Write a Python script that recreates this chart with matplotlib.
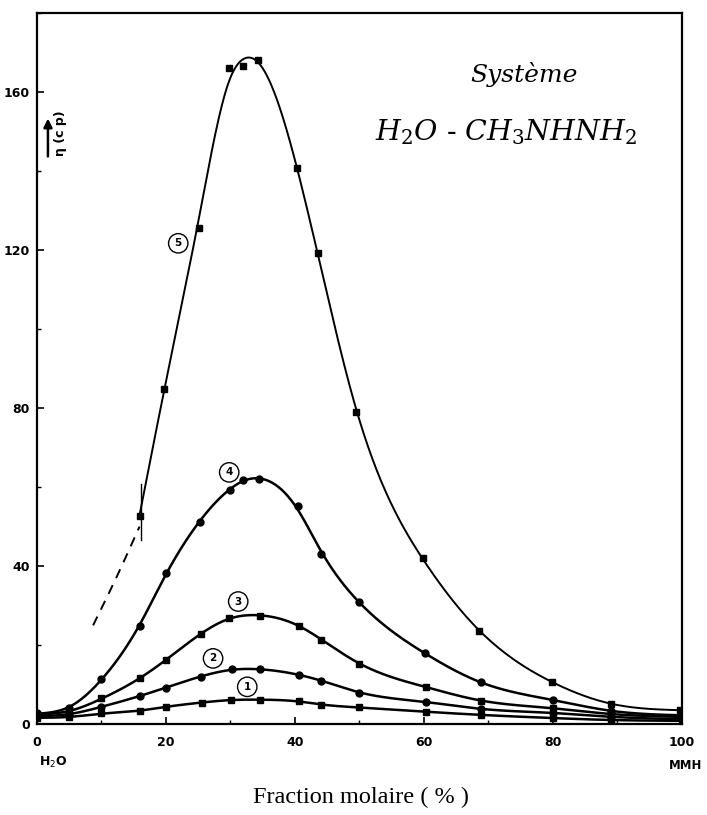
import numpy as np
import matplotlib
matplotlib.use("Agg")
import matplotlib.pyplot as plt
from matplotlib.ticker import MultipleLocator

# mole fraction of MMH (%) and viscosity (cP), one set per curve
x1 = [0, 5, 10, 16, 20, 25.6, 30.1, 34.6, 40.7, 44.1, 50, 60.3, 68.8, 80, 89, 100]
y1 = [1.6, 1.7, 2.7, 3.3, 4.4, 5.4, 6.1, 6.1, 5.8, 4.8, 4.2, 3.1, 2.3, 1.5, 1.0, 0.8]

x2 = [0, 5, 10, 16, 20, 25.4, 30.2, 34.6, 40.7, 44.1, 50, 60.3, 68.8, 80, 89, 100]
y2 = [2.0, 2.4, 4.4, 7.1, 9.2, 12.0, 13.8, 13.8, 12.4, 11.0, 7.9, 5.6, 3.8, 2.8, 1.8, 1.2]

x3 = [0, 5, 10, 16, 20, 25.4, 29.8, 34.6, 40.7, 44.1, 50, 60.3, 68.8, 80, 89, 100]
y3 = [2.5, 3.1, 6.5, 11.6, 16.2, 22.8, 26.8, 27.4, 24.9, 21.3, 15.2, 9.4, 5.9, 4.0, 2.5, 1.8]

x4 = [0, 5, 10, 16, 20, 25.2, 29.9, 32, 34.5, 40.4, 44, 50, 60.2, 68.8, 80, 89, 100]
y4 = [2.8, 4.0, 11.4, 24.9, 38.3, 51.2, 59.2, 61.8, 62.1, 55.2, 43.0, 30.8, 17.9, 10.5, 6.1, 3.3, 2.2]

x5 = [15.9, 19.7, 25.1, 29.7, 32.0, 34.3, 40.3, 43.5, 49.5, 59.8, 68.6, 79.8, 89, 99.7]
y5 = [52.7, 84.8, 125.6, 166.0, 166.7, 168.1, 140.7, 119.2, 79.1, 42.0, 23.6, 10.7, 5.1, 3.5]

# dashed extrapolation of curve 5 below the first measured point
x5_ext = [8.7, 12.3, 15.9]
y5_ext = [25.0, 37.0, 50.0]

curve_names = ["1", "2", "3", "4", "5"]
label_x = [32.6, 27.3, 31.2, 29.8, 21.9]
label_y = [9.4, 16.6, 31.0, 63.7, 121.7]

x_ticks = [0, 20, 40, 60, 80, 100]
y_ticks = [0, 40, 80, 120, 160]


def smooth_curve(x, y, lam=1.0, npts=600):
    # penalised fit on a fine grid: a hand-drawn looking line through the points
    x = np.asarray(x, float)
    y = np.asarray(y, float)
    xg = np.linspace(x[0], x[-1], npts)
    dx = xg[1] - xg[0]
    B = np.zeros((len(x), npts))
    for i, xi in enumerate(x):
        j = min(int((xi - xg[0]) / dx), npts - 2)
        t = (xi - xg[j]) / dx
        B[i, j] = 1 - t
        B[i, j + 1] = t
    D = np.diff(np.eye(npts), 2, axis=0)
    A = B.T @ B + lam / dx**3 * D.T @ D
    return xg, np.linalg.solve(A, B.T @ y)


fig = plt.figure(figsize=(7.07, 8.15), dpi=100)
ax = fig.add_axes([0.0523, 0.1117, 0.9123, 0.8723])

series = [(x1, y1, "s"), (x2, y2, "o"), (x3, y3, "s"), (x4, y4, "o"), (x5, y5, "s")]
for i, (xs, ys, mk) in enumerate(series):
    xf, yf = smooth_curve(xs, ys, lam=4.0)
    lw = 1.4 if i == 4 else 1.8
    ax.plot(xf, yf, color="black", lw=lw)
    ax.plot(xs, ys, linestyle="none", marker=mk, color="black", ms=5)

# dashed part and small vertical mark at start of curve 5
xe, ye = smooth_curve(x5_ext, y5_ext, lam=1.0)
ax.plot(xe, ye, color="black", lw=1.4, dashes=(5, 4))
ax.plot([x5[0] + 0.3, x5[0] + 0.3], [y5[0] - 6, y5[0] + 8], color="black", lw=1.0)

# circled curve numbers
for name, lx, ly in zip(curve_names, label_x, label_y):
    ax.text(lx, ly, name, ha="center", va="center", fontsize=7.5, fontweight="bold",
            bbox=dict(boxstyle="circle,pad=0.45", fc="white", ec="black", lw=1.0))

ax.set_xlim(0, 100)
ax.set_ylim(0, 180)
ax.set_xticks(x_ticks)
ax.set_yticks(y_ticks)
ax.xaxis.set_minor_locator(MultipleLocator(10))
ax.yaxis.set_minor_locator(MultipleLocator(20))
ax.tick_params(which="both", direction="in", labelsize=9)
ax.tick_params(which="major", length=5, width=1.2)
ax.tick_params(which="minor", length=3, width=1.0)
ax.tick_params(axis="x", pad=9)
ax.tick_params(axis="y", pad=5)
for lab in ax.get_xticklabels() + ax.get_yticklabels():
    lab.set_fontweight("bold")
for sp in ax.spines.values():
    sp.set_linewidth(1.6)

# axis annotations
ax.annotate("", xy=(0.017, 154), xytext=(0.017, 143),
            xycoords=("axes fraction", "data"),
            arrowprops=dict(arrowstyle="-|>,head_width=0.25,head_length=0.5",
                            color="black", lw=1.8))
ax.text(0.037, 149.6, "η (c p)", rotation=90, ha="center", va="center",
        fontsize=9, fontweight="bold", transform=ax.get_yaxis_transform())
fig.text(0.055, 0.065, "H$_2$O", fontsize=9, fontweight="bold", ha="left", va="center")
fig.text(0.993, 0.061, "MMH", fontsize=8.5, fontweight="bold", ha="right", va="center")

plt.rcParams["mathtext.fontset"] = "dejavuserif"
ax.text(0.755, 0.913, "Système", transform=ax.transAxes, ha="center", va="center",
        fontsize=18, style="italic", family="DejaVu Serif")
ax.text(0.727, 0.833, r"$\mathit{H_2O}$ - $\mathit{CH_3NHNH_2}$", transform=ax.transAxes,
        ha="center", va="center", fontsize=20.5, family="DejaVu Serif")

fig.text(0.511, 0.022, "Fraction molaire ( % )", ha="center", va="center",
         fontsize=17.5, family="Liberation Serif")

fig.savefig("out.png", dpi=100)
